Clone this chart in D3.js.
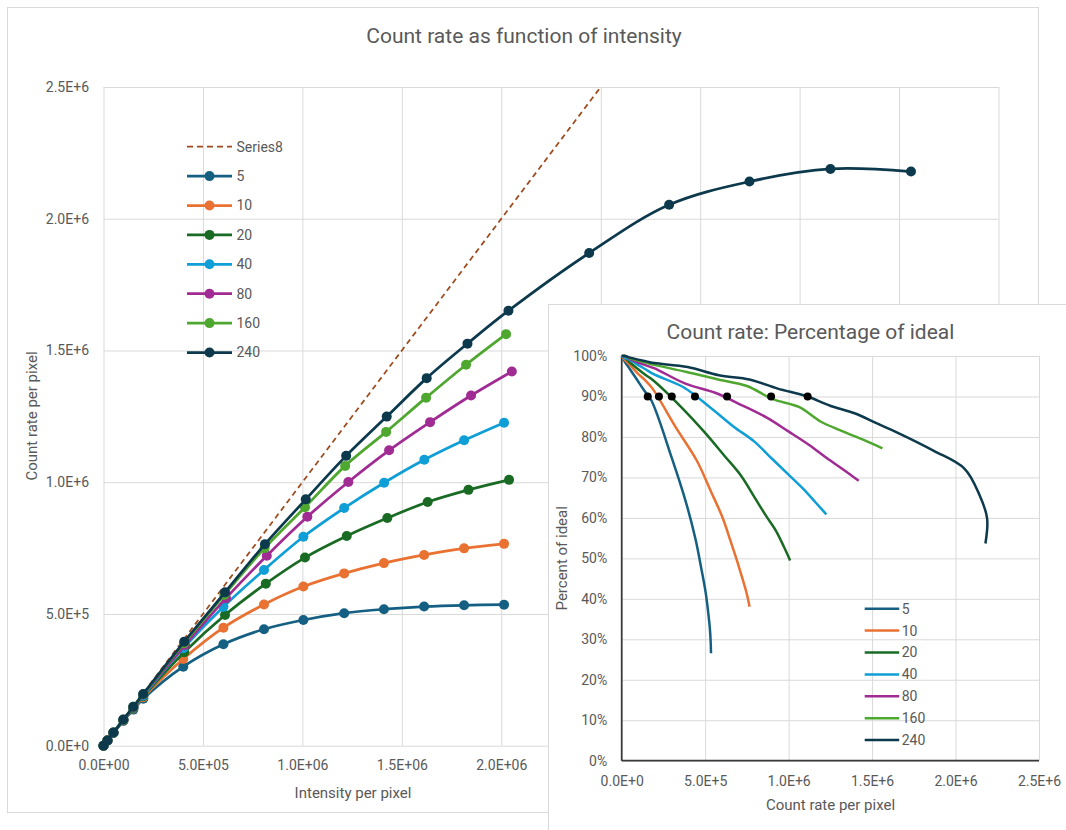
<!DOCTYPE html>
<html>
<head>
<meta charset="utf-8">
<script src="https://cdn.jsdelivr.net/npm/d3@7"></script>
<style>
  body { margin: 0; background: #fff; }
  svg text { font-family: Roboto, "Noto Sans", sans-serif; fill: #595959; }
</style>
</head>
<body>
<svg id="chart" width="1066" height="830"></svg>
<script>
// ---- data ----

var seriesNames = ['5', '10', '20', '40', '80', '160', '240']
var seriesColors = ['#156082', '#E97132', '#196B24', '#0F9ED5', '#A02B93', '#4EA72E', '#0D394D']

// dashed "ideal" series (count rate = intensity)
var idealName = 'Series8'
var idealX = [0, 2.5e6]
var idealY = [0, 2.5e6]

var intensity5 = [1, 2e4, 5e4, 1e5, 1.5e5, 2e5, 4.01e5, 6.03e5, 8.07e5, 1.005e6, 1.21e6, 1.41e6, 1.612e6, 1.813e6, 2.014e6]
var count5 = [1, 1.97e4, 4.84e4, 9.4e4, 1.37e5, 1.78e5, 3.0e5, 3.85e5, 4.42e5, 4.77e5, 5.03e5, 5.18e5, 5.28e5, 5.33e5, 5.35e5]

var intensity10 = [1, 2e4, 5e4, 1e5, 1.5e5, 2e5, 4.01e5, 6.03e5, 8.07e5, 1.005e6, 1.21e6, 1.41e6, 1.612e6, 1.813e6, 2.014e6]
var count10 = [1, 1.98e4, 4.89e4, 9.57e4, 1.41e5, 1.84e5, 3.29e5, 4.48e5, 5.36e5, 6.04e5, 6.54e5, 6.93e5, 7.24e5, 7.49e5, 7.66e5]

var intensity20 = [1, 2e4, 5e4, 1e5, 1.5e5, 2e5, 4.06e5, 6.11e5, 8.16e5, 1.013e6, 1.223e6, 1.427e6, 1.63e6, 1.835e6, 2.039e6]
var count20 = [1, 1.99e4, 4.92e4, 9.68e4, 1.43e5, 1.88e5, 3.55e5, 4.96e5, 6.15e5, 7.14e5, 7.96e5, 8.64e5, 9.25e5, 9.71e5, 1.009e6]

var intensity40 = [1, 2e4, 5e4, 1e5, 1.5e5, 2e5, 4.01e5, 6.03e5, 8.07e5, 1.005e6, 1.21e6, 1.411e6, 1.613e6, 1.813e6, 2.014e6]
var count40 = [1, 1.99e4, 4.95e4, 9.78e4, 1.45e5, 1.91e5, 3.7e5, 5.27e5, 6.67e5, 7.93e5, 9.02e5, 9.98e5, 1.085e6, 1.159e6, 1.226e6]

var intensity80 = [1, 2e4, 5e4, 1e5, 1.5e5, 2e5, 4.1e5, 6.16e5, 8.21e5, 1.025e6, 1.231e6, 1.436e6, 1.642e6, 1.848e6, 2.053e6]
var count80 = [1, 2e4, 4.96e4, 9.84e4, 1.465e5, 1.94e5, 3.82e5, 5.6e5, 7.21e5, 8.69e5, 1.001e6, 1.121e6, 1.228e6, 1.329e6, 1.42e6]

var intensity160 = [1, 2e4, 5e4, 1e5, 1.5e5, 2e5, 4.05e5, 6.07e5, 8.1e5, 1.013e6, 1.215e6, 1.421e6, 1.622e6, 1.823e6, 2.024e6]
var count160 = [1, 2e4, 4.97e4, 9.89e4, 1.475e5, 1.956e5, 3.89e5, 5.72e5, 7.5e5, 9.05e5, 1.062e6, 1.191e6, 1.321e6, 1.446e6, 1.562e6]

var intensity240 = [1, 2e4, 5e4, 1e5, 1.5e5, 2e5, 4.06e5, 6.11e5, 8.12e5, 1.017e6, 1.22e6, 1.424e6, 1.625e6, 1.83e6, 2.036e6, 2.442e6, 2.844e6, 3.248e6, 3.655e6, 4.06e6]
var count240 = [1, 2e4, 4.98e4, 9.91e4, 1.48e5, 1.965e5, 3.95e5, 5.82e5, 7.65e5, 9.35e5, 1.1e6, 1.249e6, 1.395e6, 1.526e6, 1.651e6, 1.87e6, 2.053e6, 2.141e6, 2.189e6, 2.179e6]

// black dots on the inset: where each series drops to 90% of ideal
var ninetyCount = [1.56e5, 2.23e5, 3.0e5, 4.39e5, 6.31e5, 8.95e5, 1.114e6]
var ninetyPct = [0.9, 0.9, 0.9, 0.9, 0.9, 0.9, 0.9]

// tick values (main x gridlines run to 4.5E+6, labels past 2E+6 sit under the inset)
var xTicksMain = [0, 5e5, 1e6, 1.5e6, 2e6, 2.5e6, 3e6, 3.5e6, 4e6, 4.5e6]
var xLabelsMain = [0, 5e5, 1e6, 1.5e6, 2e6]
var yTicksMain = [0, 5e5, 1e6, 1.5e6, 2e6, 2.5e6]
var xTicksInset = [0, 5e5, 1e6, 1.5e6, 2e6, 2.5e6]
var yTicksInset = [0, 0.1, 0.2, 0.3, 0.4, 0.5, 0.6, 0.7, 0.8, 0.9, 1]

var intensities = [intensity5, intensity10, intensity20, intensity40, intensity80, intensity160, intensity240]
var counts = [count5, count10, count20, count40, count80, count160, count240]

var series = seriesNames.map(function(name, i) {
  return {
    name: name,
    color: seriesColors[i],
    points: intensities[i].map(function(v, j) {
      return { intensity: v, count: counts[i][j] }
    })
  }
})

// scientific labels like Excel: 5.0E+05 / 5.0E+5
function sci(expDigits) {
  return function(v) {
    if (v === 0) return '0.0E+' + '0'.repeat(expDigits)
    var e = Math.floor(Math.log10(v) + 1e-9)
    var m = v / Math.pow(10, e)
    return m.toFixed(1) + 'E+' + String(e).padStart(expDigits, '0')
  }
}

var svg = d3.select('#chart')

// ================= main chart =================

svg
  .append('rect')
  .attr('x', 7.5)
  .attr('y', 7.5)
  .attr('width', 1031)
  .attr('height', 805)
  .attr('fill', '#fff')
  .attr('stroke', '#d9d9d9')

var main = { left: 103.5, right: 998.5, top: 87, bottom: 745.7 }

var xMain = d3.scaleLinear().domain([0, 4.5e6]).range([main.left, main.right])
var yMain = d3.scaleLinear().domain([0, 2.5e6]).range([main.bottom, main.top])

// gridlines
svg
  .append('g')
  .attr('class', 'grid')
  .attr('transform', 'translate(0,' + main.bottom + ')')
  .call(d3.axisBottom(xMain).tickValues(xTicksMain).tickSize(-(main.bottom - main.top)).tickFormat(''))
svg
  .append('g')
  .attr('class', 'grid')
  .attr('transform', 'translate(' + main.left + ',0)')
  .call(d3.axisLeft(yMain).tickValues(yTicksMain).tickSize(-(main.right - main.left)).tickFormat(''))

// tick labels
svg
  .append('g')
  .attr('class', 'axis')
  .attr('transform', 'translate(0,' + main.bottom + ')')
  .call(d3.axisBottom(xMain).tickValues(xLabelsMain).tickSize(0).tickPadding(14).tickFormat(sci(2)))
svg
  .append('g')
  .attr('class', 'axis')
  .attr('transform', 'translate(' + main.left + ',0)')
  .call(d3.axisLeft(yMain).tickValues(yTicksMain).tickSize(0).tickPadding(14.5).tickFormat(sci(1)))

svg.selectAll('.grid .domain, .axis .domain').remove()
svg.selectAll('.grid line').attr('stroke', '#d9d9d9').attr('stroke-width', 1)
svg.selectAll('.axis text').attr('font-size', 14).attr('font-family', null).attr('fill', '#595959')

// ideal dashed line
var idealLine = d3
  .line()
  .x(function(d) { return xMain(d[0]) })
  .y(function(d) { return yMain(d[1]) })

svg
  .append('path')
  .datum(d3.zip(idealX, idealY))
  .attr('d', idealLine)
  .attr('fill', 'none')
  .attr('stroke', '#9E4A1C')
  .attr('stroke-width', 1.75)
  .attr('stroke-dasharray', '5.5,4')

var mainLine = d3
  .line()
  .curve(d3.curveCatmullRom.alpha(0.5))
  .x(function(d) { return xMain(d.intensity) })
  .y(function(d) { return yMain(d.count) })

series.forEach(function(s) {
  var g = svg.append('g')
  g.append('path')
    .datum(s.points)
    .attr('d', mainLine)
    .attr('fill', 'none')
    .attr('stroke', s.color)
    .attr('stroke-width', 2.75)
    .attr('stroke-linejoin', 'round')
  g.selectAll('circle')
    .data(s.points)
    .enter()
    .append('circle')
    .attr('cx', function(d) { return xMain(d.intensity) })
    .attr('cy', function(d) { return yMain(d.count) })
    .attr('r', 5)
    .attr('fill', s.color)
})

// main titles
svg
  .append('text')
  .text('Count rate as function of intensity')
  .attr('x', 524)
  .attr('y', 42.5)
  .attr('text-anchor', 'middle')
  .attr('font-size', 21)

svg
  .append('text')
  .text('Intensity per pixel')
  .attr('x', 353)
  .attr('y', 798)
  .attr('text-anchor', 'middle')
  .attr('font-size', 15)

svg
  .append('text')
  .text('Count rate per pixel')
  .attr('transform', 'translate(37,416) rotate(-90)')
  .attr('text-anchor', 'middle')
  .attr('font-size', 15)

// main legend
var legendMain = svg.append('g').attr('transform', 'translate(187,146.7)')
var legendStep = 29.4

legendMain
  .append('line')
  .attr('x1', 0)
  .attr('x2', 45)
  .attr('stroke', '#9E4A1C')
  .attr('stroke-width', 1.75)
  .attr('stroke-dasharray', '6,4')
legendMain
  .append('text')
  .text(idealName)
  .attr('x', 49.5)
  .attr('dy', '0.35em')
  .attr('font-size', 14)

series.forEach(function(s, i) {
  var item = legendMain.append('g').attr('transform', 'translate(0,' + (i + 1) * legendStep + ')')
  item.append('line').attr('x1', 0).attr('x2', 45).attr('stroke', s.color).attr('stroke-width', 2.75)
  item.append('circle').attr('cx', 22.5).attr('r', 5).attr('fill', s.color)
  item
    .append('text')
    .text(s.name)
    .attr('x', 49.5)
    .attr('dy', '0.35em')
    .attr('font-size', 14)
})

// ================= inset chart =================

svg
  .append('rect')
  .attr('x', 548.5)
  .attr('y', 304.5)
  .attr('width', 600)
  .attr('height', 600)
  .attr('fill', '#fff')
  .attr('stroke', '#d9d9d9')

var inset = { left: 621.7, right: 1039, top: 356, bottom: 760.7 }

var xIn = d3.scaleLinear().domain([0, 2.5e6]).range([inset.left, inset.right])
var yIn = d3.scaleLinear().domain([0, 1]).range([inset.bottom, inset.top])

svg
  .append('g')
  .attr('class', 'igrid')
  .attr('transform', 'translate(0,' + inset.bottom + ')')
  .call(d3.axisBottom(xIn).tickValues(xTicksInset).tickSize(-(inset.bottom - inset.top)).tickFormat(''))
svg
  .append('g')
  .attr('class', 'igrid')
  .attr('transform', 'translate(' + inset.left + ',0)')
  .call(d3.axisLeft(yIn).tickValues(yTicksInset).tickSize(-(inset.right - inset.left)).tickFormat(''))

svg
  .append('g')
  .attr('class', 'iaxis')
  .attr('transform', 'translate(0,' + inset.bottom + ')')
  .call(d3.axisBottom(xIn).tickValues(xTicksInset).tickSize(0).tickPadding(15).tickFormat(sci(1)))
svg
  .append('g')
  .attr('class', 'iaxis')
  .attr('transform', 'translate(' + inset.left + ',0)')
  .call(d3.axisLeft(yIn).tickValues(yTicksInset).tickSize(0).tickPadding(14.5).tickFormat(d3.format('.0%')))

svg.selectAll('.igrid .domain, .iaxis .domain').remove()
svg.selectAll('.igrid line').attr('stroke', '#d9d9d9').attr('stroke-width', 1)
svg.selectAll('.iaxis text').attr('font-size', 14).attr('font-family', null).attr('fill', '#595959')

// dark axis lines
svg
  .append('line')
  .attr('x1', inset.left)
  .attr('x2', inset.left)
  .attr('y1', yIn(1))
  .attr('y2', yIn(0))
  .attr('stroke', '#3a3a3a')
  .attr('stroke-width', 1.75)
svg
  .append('line')
  .attr('x1', xIn(0))
  .attr('x2', xIn(2.5e6))
  .attr('y1', inset.bottom)
  .attr('y2', inset.bottom)
  .attr('stroke', '#3a3a3a')
  .attr('stroke-width', 1.75)

// percentage of ideal = count rate / intensity
var insetLine = d3
  .line()
  .curve(d3.curveCatmullRom.alpha(0.5))
  .x(function(d) { return xIn(d.count) })
  .y(function(d) { return yIn(d.count / d.intensity) })

series.forEach(function(s) {
  svg
    .append('path')
    .datum(s.points)
    .attr('d', insetLine)
    .attr('fill', 'none')
    .attr('stroke', s.color)
    .attr('stroke-width', 2.5)
    .attr('stroke-linejoin', 'round')
})

svg
  .append('g')
  .selectAll('circle')
  .data(d3.zip(ninetyCount, ninetyPct))
  .enter()
  .append('circle')
  .attr('cx', function(d) { return xIn(d[0]) })
  .attr('cy', function(d) { return yIn(d[1]) })
  .attr('r', 4)
  .attr('fill', '#000')

svg
  .append('text')
  .text('Count rate: Percentage of ideal')
  .attr('x', 810.5)
  .attr('y', 339.3)
  .attr('text-anchor', 'middle')
  .attr('font-size', 21)

svg
  .append('text')
  .text('Count rate per pixel')
  .attr('x', 830.5)
  .attr('y', 810)
  .attr('text-anchor', 'middle')
  .attr('font-size', 15)

svg
  .append('text')
  .text('Percent of ideal')
  .attr('transform', 'translate(567,558.3) rotate(-90)')
  .attr('text-anchor', 'middle')
  .attr('font-size', 15)

var legendIn = svg.append('g').attr('transform', 'translate(864.7,608.7)')
series.forEach(function(s, i) {
  var item = legendIn.append('g').attr('transform', 'translate(0,' + i * 21.9 + ')')
  item.append('line').attr('x1', 0).attr('x2', 34.5).attr('stroke', s.color).attr('stroke-width', 2.5)
  item
    .append('text')
    .text(s.name)
    .attr('x', 37)
    .attr('dy', '0.35em')
    .attr('font-size', 14)
})
</script>
</body>
</html>
